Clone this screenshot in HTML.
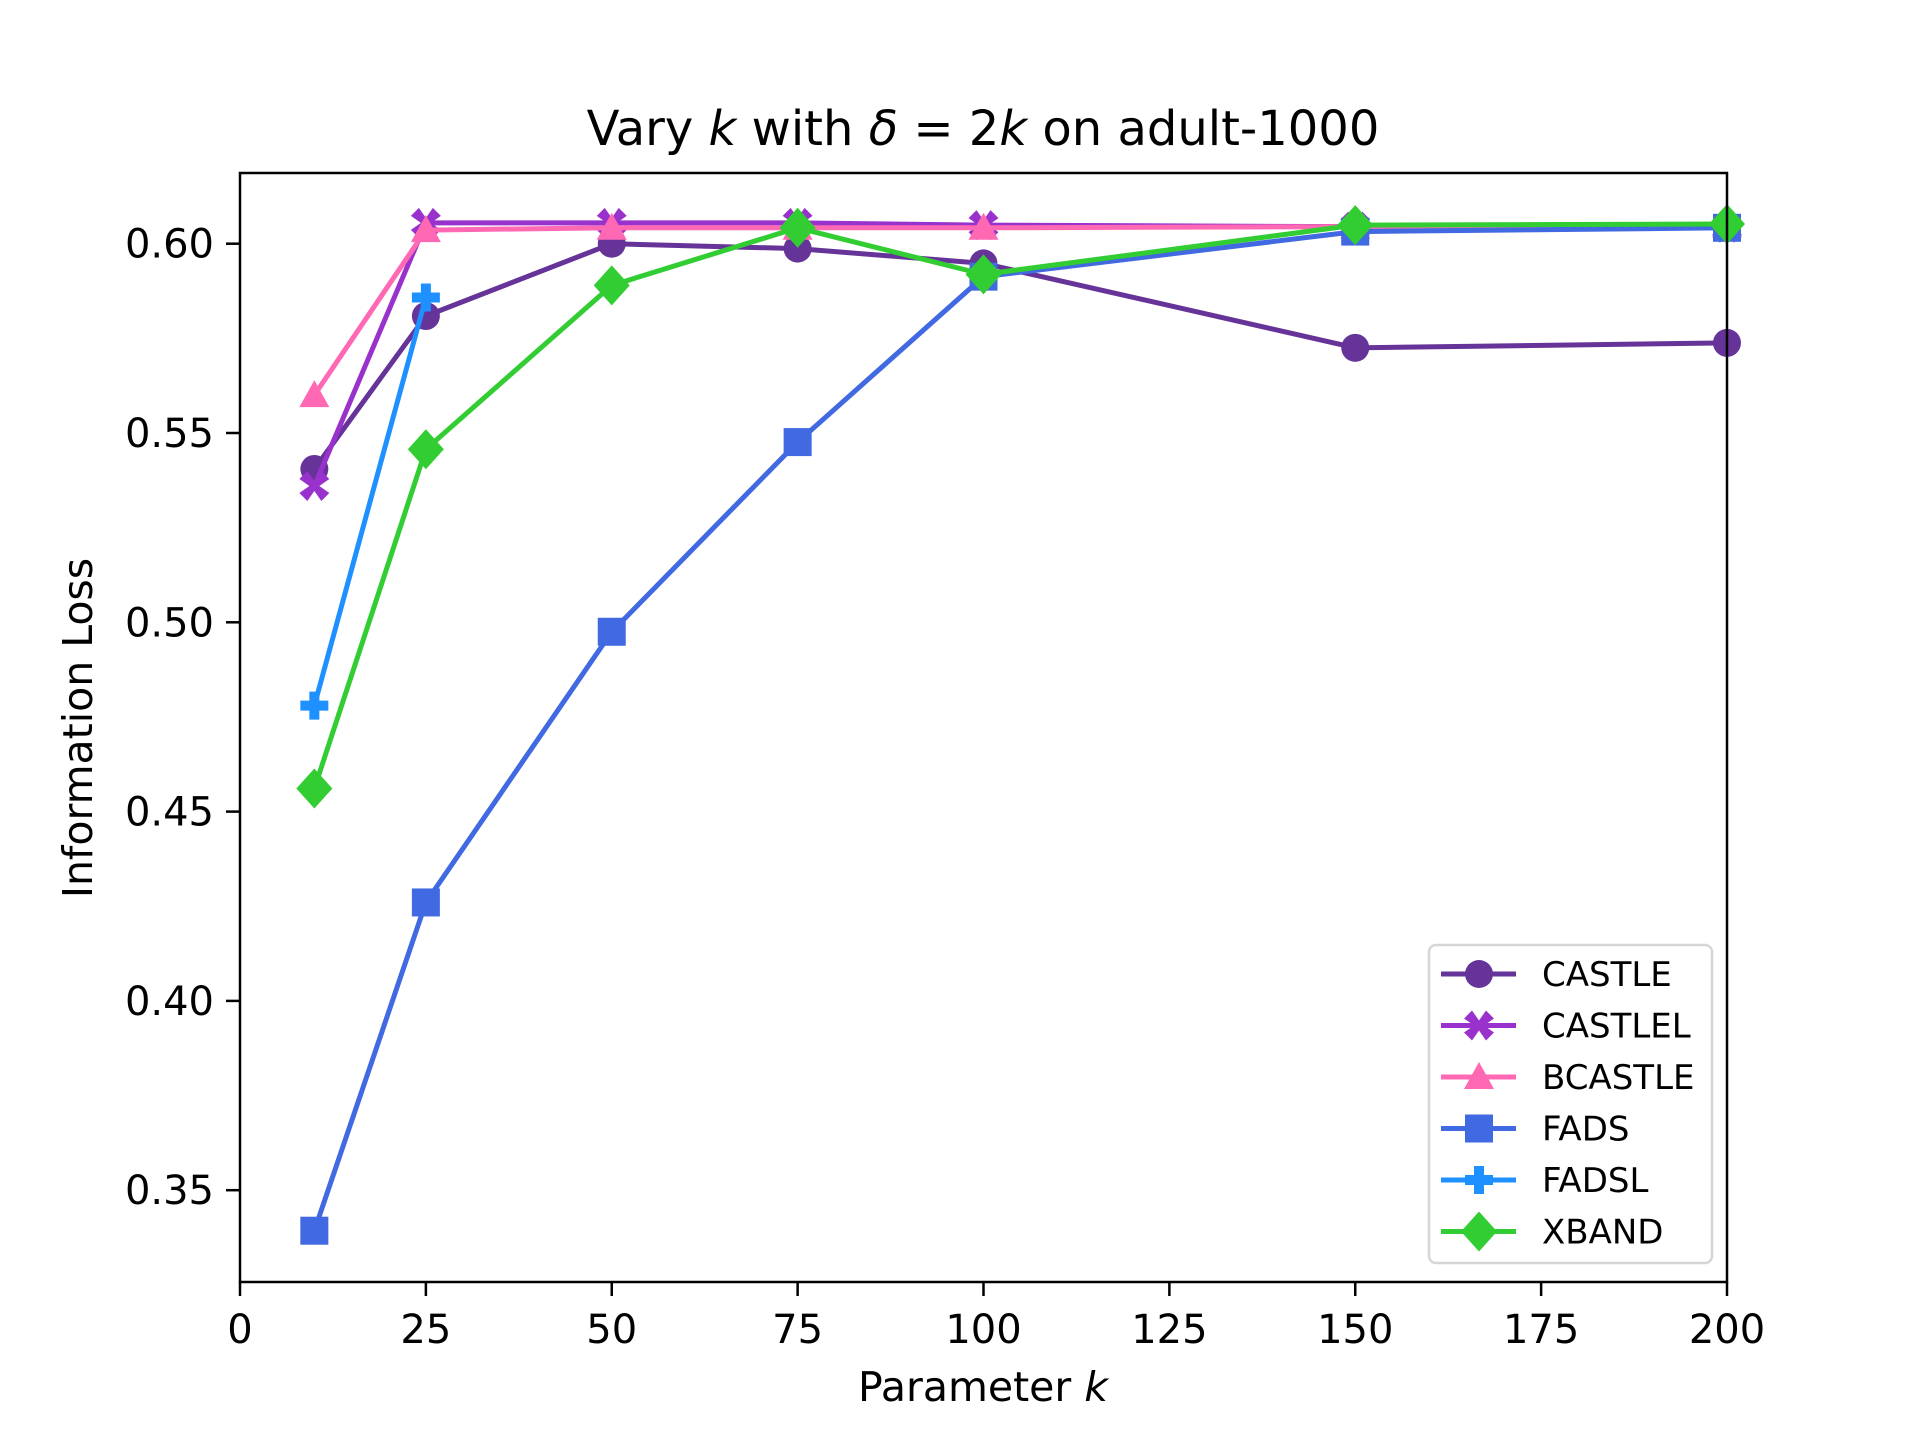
<!DOCTYPE html>
<html><head><meta charset="utf-8"><style>
html,body{margin:0;padding:0;background:#fff;}
svg text{font-family:"DejaVu Sans","Liberation Sans",sans-serif;fill:#000;}
</style></head><body>
<svg id="chart" width="1920" height="1440" viewBox="0 0 1920 1440" xmlns="http://www.w3.org/2000/svg">
<rect width="1920" height="1440" fill="#fff"/>
<g id="series"></g>
<rect x="240" y="173" width="1487" height="1109" fill="none" stroke="#000" stroke-width="2.5"/>
<g id="xticks"></g><g id="yticks"></g>
<text x="983" y="145" font-size="48" text-anchor="middle">Vary <tspan font-style="italic">k</tspan> with <tspan font-style="italic">δ</tspan> = 2<tspan font-style="italic">k</tspan> on adult-1000</text>
<text x="983" y="1401" font-size="41" text-anchor="middle">Parameter <tspan font-style="italic">k</tspan></text>
<text x="0" y="0" font-size="41" text-anchor="middle" transform="translate(92,728) rotate(-90)">Information Loss</text>
<g id="legend">
<rect x="1429" y="945" width="283" height="318" rx="7" fill="#fff" fill-opacity="0.8" stroke="#d6d6d6" stroke-width="2.5"/>
</g>
</svg>
<script>
const seriesNames = ["CASTLE","CASTLEL","BCASTLE","FADS","FADSL","XBAND"];
const seriesColors = ["#663399","#9932CC","#FF69B4","#4169E1","#1E90FF","#32CD32"];
const seriesMarkers = ["circle","xfill","triangle","square","plus","diamond"];
const kCastle = [10,25,50,75,100,150,200];
const vCastle = [0.5405,0.5809,0.6000,0.5987,0.5948,0.5725,0.5738];
const kCastleL = [10,25,50,75,100,150,200];
const vCastleL = [0.5360,0.6055,0.6055,0.6055,0.6049,0.6045,0.6042];
const kBCastle = [10,25,50,75,100,150,200];
const vBCastle = [0.5600,0.6036,0.6042,0.6042,0.6042,0.6045,0.6048];
const kFads = [10,25,50,75,100,150,200];
const vFads = [0.3393,0.4260,0.4975,0.5476,0.5913,0.6032,0.6042];
const kFadsL = [10,25];
const vFadsL = [0.4780,0.5858];
const kXband = [10,25,50,75,100,150,200];
const vXband = [0.4561,0.5457,0.5890,0.6042,0.5919,0.6049,0.6052];
const xTicks = [0,25,50,75,100,125,150,175,200];
const yTicks = [0.35,0.40,0.45,0.50,0.55,0.60];
const yTickLabels = ["0.35","0.40","0.45","0.50","0.55","0.60"];

const NS="http://www.w3.org/2000/svg";
function X(v){return 240+(v-0)/(200-0)*1487;}
function Y(v){return 243.7+(0.60-v)/0.25*946.5;}
function mk(tag,attrs){const e=document.createElementNS(NS,tag);for(const k in attrs)e.setAttribute(k,attrs[k]);return e;}
function marker(type,cx,cy,color){
  const s=14;let e;
  if(type==="circle")e=mk("circle",{cx:cx,cy:cy,r:s});
  else if(type==="square")e=mk("rect",{x:cx-s,y:cy-s,width:2*s,height:2*s});
  else if(type==="triangle")e=mk("polygon",{points:`${cx},${cy-s-1} ${cx+s+1},${cy+s-2} ${cx-s-1},${cy+s-2}`});
  else if(type==="diamond")e=mk("polygon",{points:`${cx},${cy-s-6} ${cx+s+4},${cy} ${cx},${cy+s+6} ${cx-s-4},${cy}`});
  else if(type==="plus"){const a=5,b=14;e=mk("polygon",{points:`${cx-a},${cy-b} ${cx+a},${cy-b} ${cx+a},${cy-a} ${cx+b},${cy-a} ${cx+b},${cy+a} ${cx+a},${cy+a} ${cx+a},${cy+b} ${cx-a},${cy+b} ${cx-a},${cy+a} ${cx-b},${cy+a} ${cx-b},${cy-a} ${cx-a},${cy-a}`});}
  else {const a=5,b=15,c=8;e=mk("polygon",{points:`${cx-b+c},${cy-b} ${cx},${cy-a} ${cx+b-c},${cy-b} ${cx+b},${cy-b+c} ${cx+a},${cy} ${cx+b},${cy+b-c} ${cx+b-c},${cy+b} ${cx},${cy+a} ${cx-b+c},${cy+b} ${cx-b},${cy+b-c} ${cx-a},${cy} ${cx-b},${cy-b+c}`});}
  e.setAttribute("fill",color);
  return e;
}
const ks=[kCastle,kCastleL,kBCastle,kFads,kFadsL,kXband];
const vs=[vCastle,vCastleL,vBCastle,vFads,vFadsL,vXband];
const sg=document.getElementById("series");
for(let i=0;i<seriesNames.length;i++){
  const g=mk("g",{});
  
  
  const pts=ks[i].map((k,j)=>X(k)+","+Y(vs[i][j])).join(" ");
  const pl=mk("polyline",{points:pts,fill:"none",stroke:seriesColors[i],"stroke-width":5,"stroke-linejoin":"round"});
  
  
  g.appendChild(pl);
  ks[i].forEach((k,j)=>{
    const m=marker(seriesMarkers[i],X(k),Y(vs[i][j]),seriesColors[i]);
    
    
    g.appendChild(m);
  });
  sg.appendChild(g);
}
const xg=document.getElementById("xticks");
xTicks.forEach(t=>{
  const l=mk("line",{x1:X(t),x2:X(t),y1:1282,y2:1296,stroke:"#000","stroke-width":2.5});
  
  
  xg.appendChild(l);
  const tx=mk("text",{x:X(t),y:1343,"font-size":40,"text-anchor":"middle"});
  tx.textContent=t;
  
  
  xg.appendChild(tx);
});
const yg=document.getElementById("yticks");
yTicks.forEach((t,i)=>{
  const l=mk("line",{x1:226,x2:240,y1:Y(t),y2:Y(t),stroke:"#000","stroke-width":2.5});
  
  
  yg.appendChild(l);
  const tx=mk("text",{x:214,y:Y(t)+14,"font-size":40,"text-anchor":"end"});
  tx.textContent=yTickLabels[i];
  
  
  yg.appendChild(tx);
});
const lg=document.getElementById("legend");
seriesNames.forEach((n,i)=>{
  const y=974+i*51.5;
  const g=mk("g",{});
  
  
  g.appendChild(mk("line",{x1:1441,x2:1516,y1:y,y2:y,stroke:seriesColors[i],"stroke-width":5}));
  g.appendChild(marker(seriesMarkers[i],1479,y,seriesColors[i]));
  const tx=mk("text",{x:1542,y:y+12,"font-size":34});
  tx.textContent=n;
  g.appendChild(tx);
  lg.appendChild(g);
});
</script>
</body></html>
